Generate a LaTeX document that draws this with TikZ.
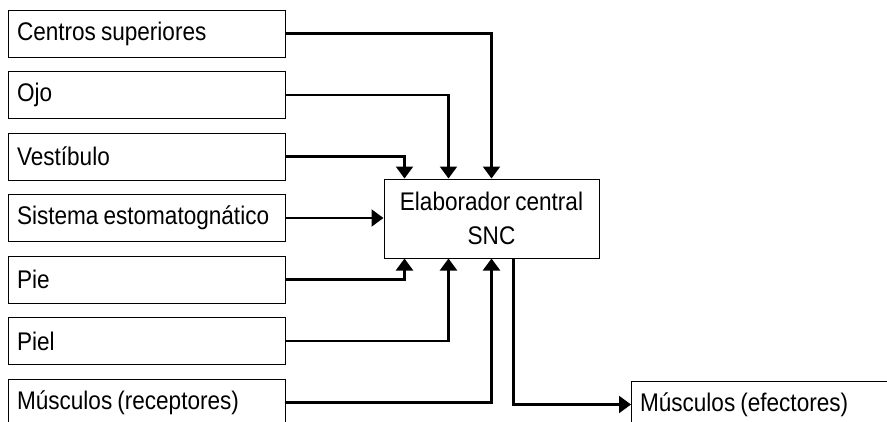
\documentclass[tikz,border=0pt]{standalone}
\usepackage{fontspec}
\setmainfont[FakeStretch=0.885, WordSpace=0.8]{Liberation Sans}
\usetikzlibrary{arrows.meta}
\begin{document}
\begin{tikzpicture}[x=1pt, y=-1pt, >={Triangle[width=17pt,length=12pt]}, line width=2.2pt,
  inbox/.style={draw, line width=1pt, anchor=west, text width=260pt, align=flush left, inner xsep=8.5pt, minimum height=47pt},
  font=\fontsize{25.5}{34}\selectfont]
\useasboundingbox (0,0) rectangle (887,421);
\clip (0,0) rectangle (887,421);
\node[inbox] (a) at (8,33.5) {Centros superiores};
\node[inbox] (b) at (8,95) {Ojo};
\node[inbox] (c) at (8,156.5) {Vestíbulo};
\node[inbox] (d) at (8,218) {Sistema estomatognático};
\node[inbox] (e) at (8,279.5) {Pie};
\node[inbox] (f) at (8,341) {Piel};
\node[inbox] (g) at (8,402.5) {Músculos (receptores)};
\node[draw, line width=1pt, minimum width=215pt, minimum height=79pt, align=center] (s) at (491.5,218.5) {Elaborador central\\SNC};
\node[inbox, text width=282pt] (h) at (631,404.5) {Músculos (efectores)};
\draw[->] (a.east) -| (s.north);
\draw[->] (b.east) -| ([xshift=-43pt]s.north);
\draw[->] (c.east) -| ([xshift=-87pt]s.north);
\draw[->] (d.east) -- (s.west |- d.east);
\draw[->] (e.east) -| ([xshift=-87pt]s.south);
\draw[->] (f.east) -| ([xshift=-43pt]s.south);
\draw[->] (g.east) -| (s.south);
\draw[->] ([xshift=22pt]s.south) |- (h.west);
\end{tikzpicture}
\end{document}
